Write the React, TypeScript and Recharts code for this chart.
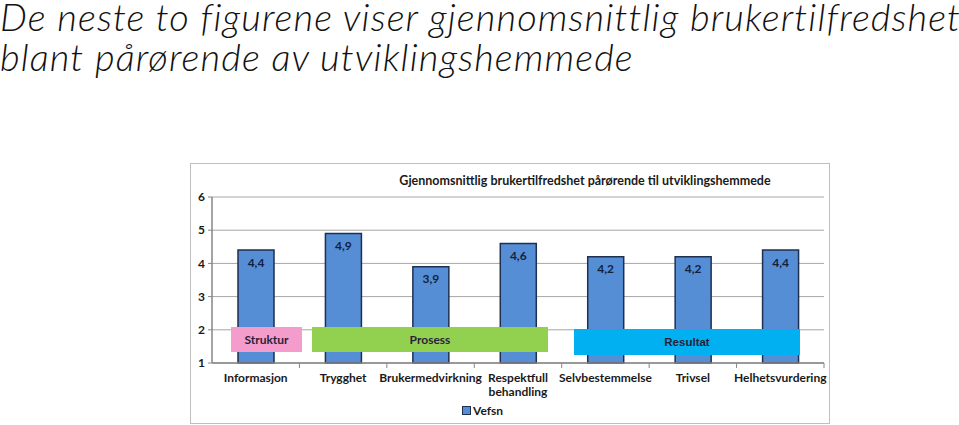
import React from "react";
import { BarChart, Bar, XAxis, YAxis, CartesianGrid, LabelList, Legend } from "recharts";

const KATEGORIER = ["Informasjon", "Trygghet", "Brukermedvirkning", "Respektfull behandling", "Selvbestemmelse", "Trivsel", "Helhetsvurdering"];
const VEFSN = [4.4, 4.9, 3.9, 4.6, 4.2, 4.2, 4.4];
const Y_TICKS = [1, 2, 3, 4, 5, 6];

const FONT = "Lato, 'Open Sans', sans-serif";
const AXIS = "#868686";
const GRID = "#a6a6a6";
const INK = "#1a1a1a";
const BAR = "#558ed5";
const BAR_EDGE = "#1f2f4f";

const W = 959;
const H = 425;
const PLOT = { left: 212, right: 824, top: 197, bottom: 363 };
const BAND = (PLOT.right - PLOT.left) / KATEGORIER.length;

const rows = KATEGORIER.map((k, i) => ({ kategori: k, Vefsn: VEFSN[i] }));
const komma = (v: unknown) => String(v).replace(".", ",");

function KategoriTick(props: any) {
  const { x, y, payload } = props;
  const linjer = String(payload.value).split(" ");
  return (
    <g>
      <line x1={x + BAND / 2} x2={x + BAND / 2} y1={y} y2={y + 5} stroke={AXIS} strokeWidth={1} />
      <text x={x} y={y + 19} textAnchor="middle" fill={INK} fontSize={12} fontWeight={700} fontFamily={FONT}>
        {linjer.map((l, i) => (
          <tspan key={i} x={x} dy={i === 0 ? 0 : 14}>{l}</tspan>
        ))}
      </text>
    </g>
  );
}

function LegendInnhold() {
  return (
    <div style={{ display: "flex", alignItems: "center", fontFamily: FONT, fontSize: 12, fontWeight: 700, color: INK }}>
      <span style={{ width: 7, height: 7, background: BAR, border: `1px solid ${BAR_EDGE}`, marginRight: 2 }} />
      Vefsn
    </div>
  );
}

function Boks({ left, top, width, height, bg, label, font = FONT, size = 12 }: any) {
  return (
    <div style={{
      position: "absolute", left, top, width, height, background: bg,
      display: "flex", alignItems: "center", justifyContent: "center",
      fontFamily: font, fontSize: size, fontWeight: 700, color: "#2a1f3a",
    }}>{label}</div>
  );
}

export default function App() {
  return (
    <div style={{ position: "absolute", left: 0, top: 0, width: W, height: H, background: "#fff", overflow: "hidden" }}>
      <div style={{ position: "absolute", left: 0, top: -4, fontFamily: FONT, fontStyle: "italic", fontWeight: 300, fontSize: 38, letterSpacing: 1.1, lineHeight: "40px", color: "#111", whiteSpace: "nowrap" }}>
        De neste to figurene viser gjennomsnittlig brukertilfredshet<br />blant pårørende av utviklingshemmede
      </div>

      <div style={{ position: "absolute", left: 190, top: 163, width: 640, height: 261, boxSizing: "border-box", border: "1px solid #bfbfbf" }} />
      <div style={{ position: "absolute", left: 190, top: 173, width: 790, textAlign: "center", fontFamily: FONT, fontSize: 12.5, fontWeight: 700, color: INK }}>
        Gjennomsnittlig brukertilfredshet pårørende til utviklingshemmede
      </div>

      <div style={{ position: "absolute", left: 0, top: 0 }}>
        <BarChart width={W} height={H} data={rows} margin={{ top: PLOT.top, right: W - PLOT.right, left: PLOT.left - 20, bottom: H - PLOT.bottom - 30 }}>
          <CartesianGrid stroke={GRID} vertical={false} />
          <XAxis dataKey="kategori" interval={0} height={30} tickSize={0} tickMargin={0} tickLine={false} axisLine={{ stroke: AXIS, strokeWidth: 1.5 }} tick={<KategoriTick />} />
          <YAxis domain={[1, 6]} ticks={Y_TICKS} width={20} interval={0} tickSize={4} tickMargin={3}
            axisLine={{ stroke: AXIS, strokeWidth: 1.5 }} tickLine={{ stroke: AXIS }}
            tick={{ fill: INK, fontSize: 12, fontWeight: 700, fontFamily: FONT }} />
          <YAxis yAxisId="kant" orientation="right" domain={[1, 6]} width={0} tick={false} tickLine={false} axisLine={{ stroke: GRID }} />
          <Legend layout="horizontal" align="center" verticalAlign="middle" content={<LegendInnhold />}
            wrapperStyle={{ position: "absolute", left: 462, top: 403, width: 60 }} />
          <Bar dataKey="Vefsn" fill={BAR} stroke={BAR_EDGE} strokeWidth={1.5} barSize={36} isAnimationActive={false}>
            <LabelList dataKey="Vefsn" position="insideTop" offset={8} formatter={komma}
              style={{ fill: "#14213d", fontSize: 12, fontWeight: 700, fontFamily: FONT }} />
          </Bar>
        </BarChart>
      </div>

      <Boks left={231} top={327} width={71} height={25} bg="#f49ccc" label="Struktur" />
      <Boks left={312} top={327} width={236} height={25} bg="#92d050" label="Prosess" />
      <Boks left={574} top={329} width={226} height={26} bg="#00b0f0" label="Resultat" font="'Liberation Sans', Arial, sans-serif" size={11.5} />
    </div>
  );
}
